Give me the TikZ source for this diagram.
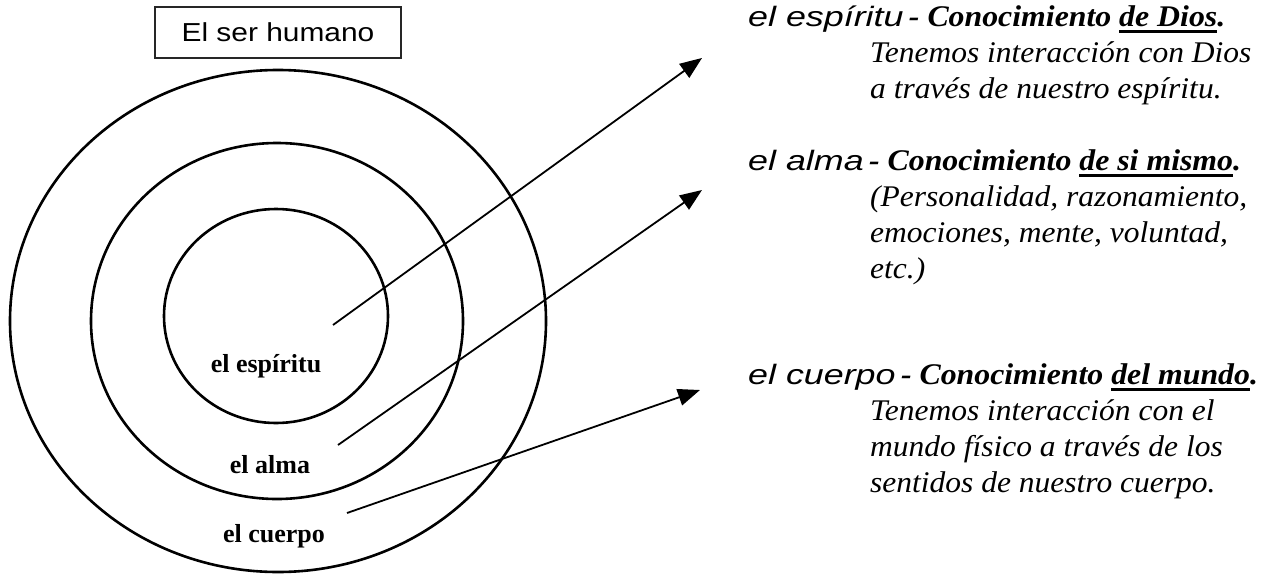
\documentclass[tikz,border=0pt]{standalone}
\usepackage{fontspec}
\setmainfont{Liberation Serif}
\newfontfamily\gothic[FakeStretch=1.15]{Liberation Sans}
\newfontfamily\gothicit[FakeStretch=1.28]{Liberation Sans}
\newfontfamily\garfont[FakeStretch=1.05]{Liberation Serif}
\newfontfamily\garbold[FakeStretch=1.06]{Liberation Serif}
\usetikzlibrary{arrows.meta}
\newcommand\myul[1]{{\setbox0\hbox{#1}\rlap{\rule[-7pt]{\wd0}{2.8pt}}\box0}}
\begin{document}
\begin{tikzpicture}[x=1pt,y=-1pt,
  ring/.style={line width=2.6pt},
  pointer/.style={line width=1.8pt,-{Triangle[length=22pt,width=17pt]}},
  lbl/.style={font=\fontsize{26}{30}\selectfont\bfseries,anchor=base,inner sep=0pt},
  head/.style={font=\gothicit\fontsize{28}{34}\selectfont\itshape,anchor=base west,inner sep=0pt},
  boldpart/.style={font=\garbold\fontsize{30}{34}\selectfont\bfseries\itshape,anchor=base west,inner sep=0pt},
  body/.style={font=\garfont\fontsize{30}{36}\selectfont\itshape,anchor=base west,inner sep=0pt},
  title/.style={draw=black!85,line width=1.3pt,minimum width=246pt,minimum height=51pt,font=\gothic\fontsize{26}{30}\selectfont,inner sep=0pt}]
\useasboundingbox (0,0) rectangle (1274,573);
\fill[white] (0,0) rectangle (1274,573);

\node[title] (ttl) at (278,32.5) {El ser humano};

\coordinate (co) at (278,321);
\coordinate (cm) at (277,321);
\coordinate (ci) at (276,316);
\draw[ring] (co) ellipse [x radius=268, y radius=251];
\draw[ring] (cm) ellipse [x radius=186, y radius=178];
\draw[ring] (ci) ellipse [x radius=112, y radius=107];

\node[lbl] (lesp) at (266,372) {el espíritu};
\node[lbl] (lalm) at (270,473) {el alma};
\node[lbl] (lcue) at (274,542) {el cuerpo};

\coordinate (s1) at (333,325);
\coordinate (t1) at (702,58);
\coordinate (s2) at (338,445);
\coordinate (t2) at (702,190);
\coordinate (s3) at (347,513);
\coordinate (t3) at (700,390);
\draw[pointer] (s1) -- (t1);
\draw[pointer] (s2) -- (t2);
\draw[pointer] (s3) -- (t3);

\node[head] (h1) at (748,26) {el espíritu};
\node[boldpart] (h1b) at (h1.base east) {\,- Conocimiento \myul{de Dios}.};
\node[body] (a1) at (870,62) {Tenemos interacción con Dios};
\node[body] (a2) at (870,98) {a través de nuestro espíritu.};

\node[head] (h2) at (748,170) {el alma};
\node[boldpart] (h2b) at (h2.base east) {\,- Conocimiento \myul{de si mismo}.};
\node[body] (b1) at (870,206) {(Personalidad, razonamiento,};
\node[body] (b2) at (870,242) {emociones, mente, voluntad,};
\node[body] (b3) at (870,278) {etc.)};

\node[head] (h3) at (748,384) {el cuerpo};
\node[boldpart] (h3b) at (h3.base east) {\,- Conocimiento \myul{del mundo}.};
\node[body] (c1) at (870,420) {Tenemos interacción con el};
\node[body] (c2) at (870,456) {mundo físico a través de los};
\node[body] (c3) at (870,492) {sentidos de nuestro cuerpo.};
\end{tikzpicture}
\end{document}
